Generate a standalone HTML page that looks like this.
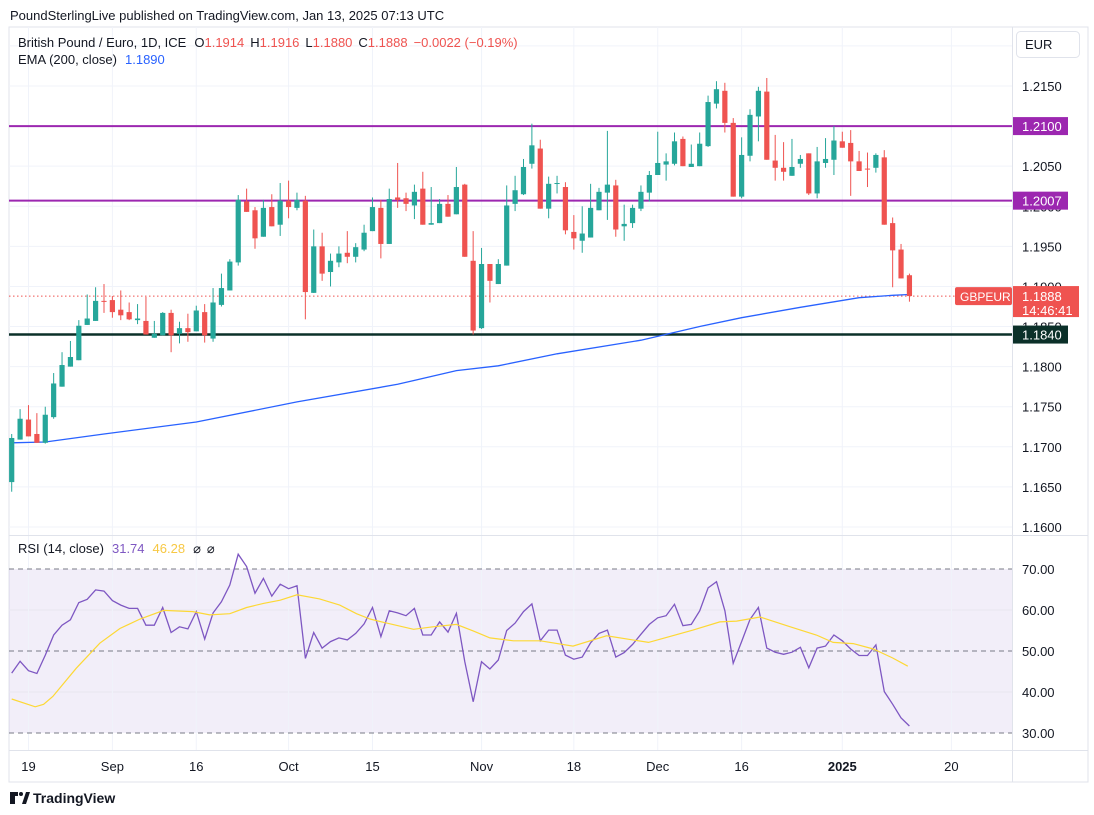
<!DOCTYPE html>
<html><head><meta charset="utf-8">
<style>
html,body{margin:0;padding:0;background:#fff;}
svg{display:block;font-family:"Liberation Sans",sans-serif;}
</style></head>
<body>
<svg id="chart" width="1094" height="815" viewBox="0 0 1094 815" xmlns="http://www.w3.org/2000/svg">
  <rect x="0" y="0" width="1094" height="815" fill="#ffffff"/>
  <text x="10" y="20" font-size="13" fill="#131722">PoundSterlingLive published on TradingView.com, Jan 13, 2025 07:13 UTC</text>
  <rect x="9" y="27" width="1079" height="755" fill="none" stroke="#e0e3eb"/>
  <rect x="9" y="569" width="1003.5" height="164" fill="rgba(126,87,194,0.1)"/>
  <g id="grid"></g>
  <g id="levels"></g>
  <g id="ema"></g>
  <g id="candles"></g>
  <g id="rsi"></g>
  <line x1="9" y1="535.5" x2="1088" y2="535.5" stroke="#e0e3eb"/>
  <line x1="1012.5" y1="27" x2="1012.5" y2="782" stroke="#e0e3eb"/>
  <line x1="9" y1="750.5" x2="1088" y2="750.5" stroke="#e0e3eb"/>
  <g id="axes"></g>
  <g id="labels"></g>

  <text x="18" y="47" font-size="13" fill="#131722">British Pound / Euro, 1D, ICE<tspan dx="8">O</tspan><tspan fill="#ef5350">1.1914</tspan><tspan dx="6">H</tspan><tspan fill="#ef5350">1.1916</tspan><tspan dx="6">L</tspan><tspan fill="#ef5350">1.1880</tspan><tspan dx="6">C</tspan><tspan fill="#ef5350">1.1888</tspan><tspan dx="6" fill="#ef5350">−0.0022 (−0.19%)</tspan></text>
  <text x="18" y="64" font-size="13" fill="#131722">EMA (200, close)<tspan dx="8" fill="#2962ff">1.1890</tspan></text>
  <text x="18" y="553" font-size="13" fill="#131722">RSI (14, close)<tspan dx="8" fill="#7e57c2">31.74</tspan><tspan dx="8" fill="#f7c844">46.28</tspan><tspan dx="8">⌀</tspan><tspan dx="6">⌀</tspan></text>

  <g>
    <rect x="1016.5" y="31.5" width="63" height="26" rx="4" fill="#fff" stroke="#e0e3eb"/>
    <text x="1025" y="49" font-size="13" fill="#131722">EUR</text>
  </g>

  <g>
    <path d="M10 792 h8 v4 h-3 v8 h-5 z" fill="#131722"/>
    <circle cx="21" cy="794" r="2" fill="#131722"/>
    <path d="M22 804 l4 -12 h4 l-4 12 z" fill="#131722"/>
    <text x="33" y="803" font-size="14" font-weight="bold" fill="#131722">TradingView</text>
  </g>
</svg>
<script>
// ---- data ----
const opens  = [1.1656,1.1709,1.1734,1.1716,1.1705,1.1737,1.1775,1.1800,1.1808,1.1852,1.1857,1.1882,1.1883,1.1871,1.1868,1.1858,1.1857,1.1836,1.1839,1.1867,1.1841,1.1848,1.1844,1.1868,1.1835,1.1877,1.1895,1.1930,1.2006,1.1995,1.1962,1.1999,1.1977,1.2007,1.1998,1.2007,1.1892,1.1950,1.1918,1.1930,1.1942,1.1937,1.1946,1.1969,1.1998,1.1953,1.2011,1.2010,1.2001,1.2022,1.1977,1.1979,1.2003,1.1990,1.2027,1.1932,1.1848,1.1928,1.1903,1.1926,1.2003,1.2015,1.2053,1.2072,1.1997,1.2028,1.2024,1.1968,1.1957,1.1961,1.1995,1.2017,1.2026,1.1975,1.1979,1.1997,1.2017,1.2039,1.2052,1.2053,1.2084,1.2049,1.2050,1.2075,1.2128,1.2144,1.2104,1.2012,1.2063,1.2112,1.2143,1.2057,1.2048,1.2038,1.2053,1.2066,1.2016,1.2054,1.2058,1.2081,1.2079,1.2056,1.2047,1.2048,1.2061,1.1979,1.1946,1.1914];
const highs  = [1.1716,1.1747,1.1752,1.1742,1.1750,1.1792,1.1818,1.1832,1.1858,1.1890,1.1899,1.1903,1.1888,1.1895,1.1880,1.1878,1.1887,1.1857,1.1868,1.1871,1.1856,1.1866,1.1876,1.1878,1.1898,1.1916,1.1934,1.2014,1.2022,1.1999,1.2008,1.2015,1.2029,1.2032,1.2017,1.2013,1.1971,1.1967,1.1941,1.1950,1.1969,1.1954,1.1977,1.2011,1.2008,1.2022,1.2054,1.2017,1.2027,1.2043,1.2024,1.2009,1.2014,1.2049,1.2028,1.1969,1.1948,1.1928,1.1934,1.2026,1.2038,1.2059,1.2103,1.2083,1.2037,1.2038,1.2030,1.1989,1.2000,1.2028,1.2023,1.2094,1.2033,1.2002,1.2002,1.2026,1.2044,1.2093,1.2066,1.2092,1.2087,1.2077,1.2092,1.2138,1.2156,1.2154,1.2110,1.2086,1.2121,1.2149,1.2160,1.2089,1.2080,1.2084,1.2064,1.2066,1.2074,1.2085,1.2100,1.2093,1.2095,1.2069,1.2067,1.2066,1.2070,1.1986,1.1953,1.1916];
const lows   = [1.1644,1.1709,1.1713,1.1705,1.1704,1.1735,1.1775,1.1800,1.1808,1.1852,1.1857,1.1867,1.1861,1.1858,1.1858,1.1853,1.1840,1.1836,1.1839,1.1818,1.1829,1.1831,1.1844,1.1830,1.1831,1.1875,1.1895,1.1926,1.1993,1.1947,1.1962,1.1975,1.1963,1.1985,1.1995,1.1859,1.1892,1.1907,1.1900,1.1924,1.1929,1.1930,1.1944,1.1969,1.1935,1.1953,1.1998,1.1994,1.1984,1.1977,1.1977,1.1979,1.1987,1.1990,1.1937,1.1840,1.1847,1.1880,1.1903,1.1926,1.1994,1.2014,1.2047,1.1997,1.1985,1.2016,1.1965,1.1946,1.1942,1.1961,1.1995,1.1983,1.1962,1.1957,1.1973,1.1994,1.2006,1.2039,1.2032,1.2051,1.2050,1.2049,1.2050,1.2074,1.2122,1.2092,1.2012,1.2010,1.2056,1.2081,1.2058,1.2032,1.2032,1.2038,1.2048,1.2014,1.2010,1.2048,1.2039,1.2073,1.2013,1.2044,1.2024,1.2042,1.1977,1.1899,1.1910,1.1881];
const closes = [1.1711,1.1735,1.1713,1.1705,1.1740,1.1779,1.1802,1.1812,1.1851,1.1860,1.1882,1.1881,1.1868,1.1864,1.1859,1.1860,1.1840,1.1841,1.1867,1.1839,1.1848,1.1843,1.1870,1.1839,1.1880,1.1898,1.1931,1.2008,1.1993,1.1960,1.1998,1.1975,1.2007,1.1999,1.2008,1.1893,1.1950,1.1916,1.1932,1.1941,1.1937,1.1949,1.1967,1.1999,1.1953,1.2009,1.2008,1.2003,1.2018,1.1977,1.1979,1.2003,1.1987,1.2024,1.1937,1.1845,1.1928,1.1907,1.1928,1.2001,1.2020,1.2049,1.2076,1.1997,1.2028,1.2029,1.1970,1.1960,1.1966,1.1998,1.2018,1.2027,1.1971,1.1978,1.1998,1.2018,1.2039,1.2054,1.2056,1.2081,1.2050,1.2053,1.2078,1.2130,1.2146,1.2104,1.2012,1.2064,1.2114,1.2144,1.2058,1.2048,1.2043,1.2049,1.2059,1.2016,1.2056,1.2059,1.2082,1.2073,1.2056,1.2044,1.2046,1.2064,1.1977,1.1945,1.1910,1.1888];
const emaIdx = [0,4,11,22,34,46,53,58,65,75,82,87,94,101,105,107];
const emaVal = [1.1705,1.1706,1.1716,1.1731,1.1756,1.1778,1.1795,1.1801,1.1816,1.1833,1.1850,1.1861,1.1874,1.1886,1.1889,1.1890];
const rsiVal = [44.6,47.5,45.2,44.5,49.0,53.9,56.3,57.6,61.8,62.6,64.9,64.6,62.3,61.2,60.4,60.4,56.3,56.3,60.6,54.5,55.9,55.4,59.6,52.9,59.3,62.0,66.1,73.6,70.6,64.1,67.7,63.4,66.3,65.2,65.9,48.2,54.5,50.7,52.3,53.2,52.7,54.3,56.6,60.6,53.5,59.8,59.3,58.6,60.4,53.9,53.9,57.1,54.6,59.2,47.4,37.6,47.4,45.6,47.8,55.0,56.8,59.6,61.5,52.5,55.1,55.1,49.0,48.0,48.5,52.0,54.3,55.1,48.5,49.6,51.6,54.1,56.5,58.1,58.6,61.4,56.2,56.5,59.8,65.4,66.9,59.8,47.0,52.3,57.7,60.6,50.7,49.7,49.2,49.7,50.9,45.9,50.7,51.2,53.9,52.5,50.5,48.9,48.9,51.5,40.1,37.0,33.7,31.7];
const maIdx = [0,2.8,3.8,4.9,7.7,10.5,12.9,15.3,18.1,21.6,23.6,26,28,30,32,34,36.7,39.1,41.1,42.7,44.7,47.9,50.2,53,55,57,59.8,63,66.9,70.9,75.9,81.2,84.4,86.4,89.2,92.8,95.9,97.9,100.3,102.7,105,106.8];
const maVal = [38.3,36.4,37.0,38.9,45.8,51.9,55.5,57.8,59.9,59.6,58.8,59.1,60.6,61.6,62.4,63.7,62.7,61.2,59.1,57.8,56.8,55.3,55.9,56.5,54.9,53.2,52.5,52.5,51.2,53.7,52.1,55.1,57.1,57.3,58.3,55.9,53.9,52.1,51.8,50.5,48.3,46.3];
const priceTicks = [1.2150,1.2100,1.2050,1.2000,1.1950,1.1900,1.1850,1.1800,1.1750,1.1700,1.1650,1.1600];
const rsiTicks = [70,60,50,40,30];
const timeLabels = ["19","Sep","16","Oct","15","Nov","18","Dec","16","2025","20"];
const timeIdx = [2,12,22,33,43,56,67,77,87,99,112];
const hLevels = [1.2100,1.2007,1.1840];
const lastPrice = 1.1888;

// ---- scales ----
const NS = "http://www.w3.org/2000/svg";
const xOf = i => 11.7 + 8.39 * i;
const yOf = p => 86 + (1.215 - p) / 0.005 * 40.09;
const yR = v => 569 + (70 - v) * 4.1;
function mk(parent, tag, attrs){ const e = document.createElementNS(NS, tag); for (const k in attrs) e.setAttribute(k, attrs[k]); document.getElementById(parent).appendChild(e); return e; }

// grid
for (let p = 1.160; p <= 1.2201; p += 0.005) {
  const g = mk('grid','line',{x1:9,x2:1012,y1:yOf(p),y2:yOf(p),stroke:'#f0f3fa'});
  
  
}
[60,40].forEach(v => {
  const g = mk('grid','line',{x1:9,x2:1012,y1:yR(v),y2:yR(v),stroke:'#e8e6f0'});
  
  
});
timeIdx.forEach(i => {
  const g = mk('grid','line',{x1:xOf(i),x2:xOf(i),y1:27,y2:750,stroke:'#f0f3fa'});
  
  
});
[70,50,30].forEach(v => {
  const g = mk('grid','line',{x1:9,x2:1012,y1:yR(v),y2:yR(v),stroke:'#787b86','stroke-dasharray':'5 4'});
  
  
});

// horizontal levels
const levelColors = ['#9c27b0','#9c27b0','#0b3029'];
hLevels.forEach((p, k) => {
  const l = mk('levels','line',{x1:9,x2:1012,y1:yOf(p),y2:yOf(p),stroke:levelColors[k],'stroke-width':k==2?2.5:2});
  
  
});
const cur = mk('levels','line',{x1:9,x2:955,y1:yOf(lastPrice),y2:yOf(lastPrice),stroke:'#ef5350','stroke-dasharray':'1.5 2.5'});



// EMA
const emaPts = emaIdx.map((i,k) => xOf(i).toFixed(1) + ',' + yOf(emaVal[k]).toFixed(1)).join(' ');
const emaLine = mk('ema','polyline',{points:emaPts,fill:'none',stroke:'#2962ff','stroke-width':1.3});



// candles
for (let i = 0; i < opens.length; i++) {
  const up = closes[i] >= opens[i];
  const col = up ? '#26a69a' : '#ef5350';
  const x = xOf(i);
  const w = mk('candles','line',{x1:x,x2:x,y1:yOf(highs[i]),y2:yOf(lows[i]),stroke:col,'stroke-width':1});
  
  
  const yt = yOf(Math.max(opens[i], closes[i]));
  const yb = yOf(Math.min(opens[i], closes[i]));
  const b = mk('candles','rect',{x:x-2.6,y:yt,width:5.2,height:Math.max(1,yb-yt),fill:col});
  
  
}

// RSI
const rsiPts = rsiVal.map((v,i) => xOf(i).toFixed(1) + ',' + yR(v).toFixed(1)).join(' ');
const rl = mk('rsi','polyline',{points:rsiPts,fill:'none',stroke:'#7e57c2','stroke-width':1.3});


const maPts = maIdx.map((i,k) => xOf(i).toFixed(1) + ',' + yR(maVal[k]).toFixed(1)).join(' ');
const ml = mk('rsi','polyline',{points:maPts,fill:'none',stroke:'#fdd835','stroke-width':1.2});



// axes labels
priceTicks.forEach(p => {
  const t = mk('axes','text',{x:1022,y:yOf(p)+5,'font-size':13,fill:'#131722'});
  t.textContent = p.toFixed(4);
  
  
});
rsiTicks.forEach(v => {
  const t = mk('axes','text',{x:1022,y:yR(v)+5,'font-size':13,fill:'#131722'});
  t.textContent = v.toFixed(2);
  
  
});
timeLabels.forEach((s,k) => {
  const t = mk('axes','text',{x:xOf(timeIdx[k]),y:771,'font-size':13,fill:'#131722','text-anchor':'middle','font-weight':s==='2025'?'bold':'normal'});
  t.textContent = s;
  
  
});

// level labels
const boxFill = ['#9c27b0','#9c27b0','#0b3029'];
hLevels.forEach((p,k) => {
  const y = yOf(p);
  const r = mk('labels','rect',{x:1013,y:y-9,width:55,height:18,fill:boxFill[k]});
  
  
  const t = mk('labels','text',{x:1022,y:y+5,'font-size':13,fill:'#ffffff'});
  t.textContent = p.toFixed(4);
  
  
});
const ly = yOf(lastPrice);
const sb = mk('labels','rect',{x:955,y:ly-9,width:57,height:18,rx:2,fill:'#ef5350'});


const st = mk('labels','text',{x:960,y:ly+5,'font-size':12,fill:'#ffffff'});
st.textContent = 'GBPEUR';


const pb = mk('labels','rect',{x:1013,y:ly-10,width:66,height:31,fill:'#ef5350'});


const pt = mk('labels','text',{x:1022,y:ly+5,'font-size':13,fill:'#ffffff'});
pt.textContent = lastPrice.toFixed(4);


const ct = mk('labels','text',{x:1022,y:ly+19,'font-size':13,fill:'#ffffff'});
ct.textContent = '14:46:41';


</script>
</body></html>
